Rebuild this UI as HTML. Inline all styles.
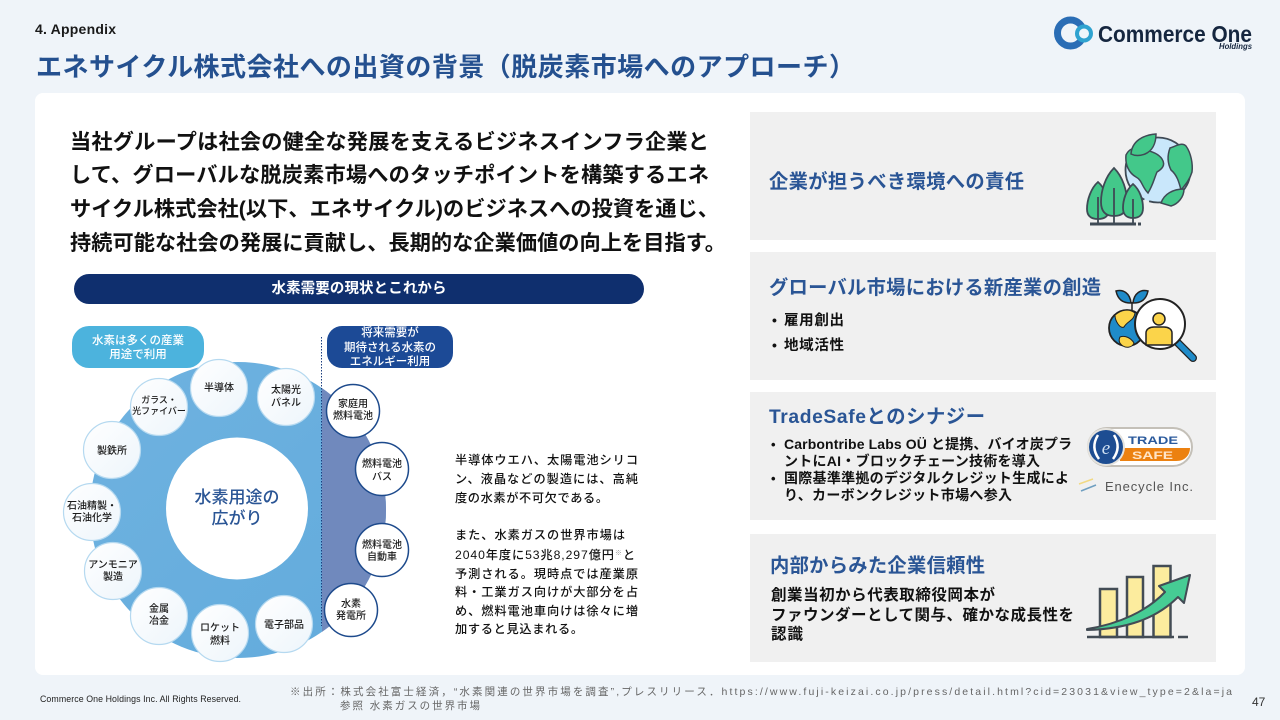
<!DOCTYPE html>
<html lang="ja"><head><meta charset="utf-8"><title>エネサイクル株式会社への出資の背景</title>
<style>
html,body{margin:0;padding:0;width:1280px;height:720px;overflow:hidden;background:#eff4f9}
svg{display:block}
text{font-family:"Liberation Sans","Noto Sans CJK JP",sans-serif}
.b{font-weight:700}
.m{font-weight:500}
.t{fill:#2a5595;font-weight:700;font-size:19.3px}
.k{fill:#111;font-weight:700}
.c{font-size:10px;fill:#1a1a1a;font-weight:500;text-anchor:middle}
.p{font-size:11.5px;fill:#fff;font-weight:500;text-anchor:middle}
.s{font-size:12.2px;fill:#111;font-weight:500}
</style></head><body>
<svg width="1280" height="720" viewBox="0 0 1280 720" xmlns="http://www.w3.org/2000/svg">
<defs>
<clipPath id="rc"><rect x="322" y="300" width="100" height="400"/></clipPath>
<linearGradient id="bg1" x1="0" y1="0" x2="1" y2="1"><stop offset="0" stop-color="#6fb2e0"/><stop offset="1" stop-color="#62abdc"/></linearGradient>
<linearGradient id="sm" x1="0" y1="0" x2="1" y2="1"><stop offset="0" stop-color="#fff"/><stop offset="1" stop-color="#edf5fb"/></linearGradient>
</defs>
<rect width="1280" height="720" fill="#eff4f9"/>
<text x="35" y="34" class="b" font-size="14" fill="#1a1a1a" textLength="81" lengthAdjust="spacing">4. Appendix</text>
<text x="36" y="76" class="b" font-size="26" fill="#24508f" textLength="819" lengthAdjust="spacing">エネサイクル株式会社への出資の背景（脱炭素市場へのアプローチ）</text>

<!-- logo -->
<circle cx="1070.5" cy="33" r="13" fill="none" stroke="#2a6db5" stroke-width="7"/>
<circle cx="1084" cy="33.500" r="7" fill="#eef6fb" stroke="#2fa3d0" stroke-width="4"/>
<text x="1098" y="42" class="b" font-size="23" fill="#15263f" textLength="154" lengthAdjust="spacingAndGlyphs">Commerce One</text>
<text x="1219" y="49" class="b" font-size="8" font-style="italic" fill="#15263f" textLength="33" lengthAdjust="spacingAndGlyphs">Holdings</text>

<!-- card -->
<rect x="35" y="93" width="1210" height="582" rx="8" fill="#fff"/>

<!-- main text -->
<g font-size="21.2">
<text x="70" y="149" class="k" textLength="639" lengthAdjust="spacing">当社グループは社会の健全な発展を支えるビジネスインフラ企業と</text>
<text x="70" y="182" class="k" textLength="639" lengthAdjust="spacing">して、グローバルな脱炭素市場へのタッチポイントを構築するエネ</text>
<text x="70" y="216" class="k" textLength="649" lengthAdjust="spacing">サイクル株式会社(以下、エネサイクル)のビジネスへの投資を通じ、</text>
<text x="70" y="250" class="k" textLength="656" lengthAdjust="spacing">持続可能な社会の発展に貢献し、長期的な企業価値の向上を目指す。</text>
</g>

<!-- banner -->
<rect x="74" y="274" width="570" height="30" rx="15" fill="#0f2f6e"/>
<text x="359" y="293" class="b" font-size="14.500" fill="#fff" text-anchor="middle" textLength="175" lengthAdjust="spacing">水素需要の現状とこれから</text>

<!-- pills -->
<rect x="72" y="326" width="132" height="42" rx="17" fill="#4cb3dd"/>
<text x="138" y="344" class="p">水素は多くの産業</text>
<text x="138" y="358" class="p">用途で利用</text>
<rect x="327" y="326" width="126" height="42" rx="15" fill="#1c4a96"/>
<text x="390" y="336" class="p">将来需要が</text>
<text x="390" y="351" class="p">期待される水素の</text>
<text x="390" y="365" class="p">エネルギー利用</text>

<!-- ring -->
<circle cx="238" cy="510" r="148" fill="url(#bg1)"/>
<circle cx="238" cy="510" r="148" fill="#7089bd" clip-path="url(#rc)"/>
<line x1="321.5" y1="337" x2="321.5" y2="626" stroke="#1c3f80" stroke-width="1" stroke-dasharray="1.5 1.5"/>
<circle cx="237" cy="508.500" r="71" fill="#fff"/>
<text x="237" y="503" class="m" font-size="17" fill="#2a5595" text-anchor="middle">水素用途の</text>
<text x="237" y="524" class="m" font-size="17" fill="#2a5595" text-anchor="middle">広がり</text>

<g fill="url(#sm)" stroke="#b5d9f0" stroke-width="1.200">
<circle cx="219" cy="388" r="28.500"/>
<circle cx="286" cy="397" r="28.500"/>
<circle cx="159" cy="407" r="28.500"/>
<circle cx="112" cy="450" r="28.500"/>
<circle cx="92" cy="512" r="28.500"/>
<circle cx="113" cy="571" r="28.500"/>
<circle cx="159" cy="616" r="28.500"/>
<circle cx="220" cy="633" r="28.500"/>
<circle cx="284" cy="624" r="28.500"/>
</g>
<text x="219" y="391" class="c">半導体</text>
<text x="286" y="393" class="c">太陽光</text><text x="286" y="406" class="c">パネル</text>
<text x="159" y="403" class="c" style="font-size:9px">ガラス・</text><text x="159" y="414" class="c" style="font-size:9px">光ファイバー</text>
<text x="112" y="454" class="c">製鉄所</text>
<text x="92" y="509" class="c">石油精製・</text><text x="92" y="521" class="c">石油化学</text>
<text x="113" y="568" class="c">アンモニア</text><text x="113" y="580" class="c">製造</text>
<text x="159" y="612" class="c">金属</text><text x="159" y="624" class="c">冶金</text>
<text x="220" y="631" class="c">ロケット</text><text x="220" y="644" class="c">燃料</text>
<text x="284" y="628" class="c">電子部品</text>

<g fill="#fff" stroke="#1d4a8c" stroke-width="1.500">
<circle cx="353" cy="411" r="26.500"/>
<circle cx="382" cy="469" r="26.500"/>
<circle cx="382" cy="550" r="26.500"/>
<circle cx="351" cy="610" r="26.500"/>
</g>
<text x="353" y="407" class="c">家庭用</text><text x="353" y="419" class="c">燃料電池</text>
<text x="382" y="467" class="c">燃料電池</text><text x="382" y="480" class="c">バス</text>
<text x="382" y="548" class="c">燃料電池</text><text x="382" y="560" class="c">自動車</text>
<text x="351" y="607" class="c">水素</text><text x="351" y="619" class="c">発電所</text>

<!-- side text -->
<text x="455" y="464" class="s" textLength="183" lengthAdjust="spacing">半導体ウエハ、太陽電池シリコ</text>
<text x="455" y="483" class="s" textLength="183" lengthAdjust="spacing">ン、液晶などの製造には、高純</text>
<text x="455" y="502" class="s" textLength="153" lengthAdjust="spacing">度の水素が不可欠である。</text>
<text x="455" y="539" class="s" textLength="170" lengthAdjust="spacing">また、水素ガスの世界市場は</text>
<text x="455" y="559" class="s" textLength="180" lengthAdjust="spacing">2040年度に53兆8,297億円<tspan font-size="7" dy="-4" fill="#999">※</tspan><tspan dy="4">と</tspan></text>
<text x="455" y="578" class="s" textLength="183" lengthAdjust="spacing">予測される。現時点では産業原</text>
<text x="455" y="596" class="s" textLength="183" lengthAdjust="spacing">料・工業ガス向けが大部分を占</text>
<text x="455" y="615" class="s" textLength="183" lengthAdjust="spacing">め、燃料電池車向けは徐々に増</text>
<text x="455" y="633" class="s" textLength="128" lengthAdjust="spacing">加すると見込まれる。</text>

<!-- right panels -->
<g fill="#f0f0f0">
<rect x="750" y="112" width="466" height="128"/>
<rect x="750" y="252" width="466" height="128"/>
<rect x="750" y="392" width="466" height="128"/>
<rect x="750" y="534" width="466" height="128"/>
</g>
<text x="769" y="188" class="t" textLength="255" lengthAdjust="spacing">企業が担うべき環境への責任</text>
<text x="769" y="294" class="t" textLength="332" lengthAdjust="spacing">グローバル市場における新産業の創造</text>
<text x="772" y="325" class="k" font-size="14">•</text>
<text x="784" y="325" class="k" font-size="14.500" textLength="60" lengthAdjust="spacing">雇用創出</text>
<text x="772" y="350" class="k" font-size="14">•</text>
<text x="784" y="350" class="k" font-size="14.500" textLength="60" lengthAdjust="spacing">地域活性</text>
<text x="769" y="423" class="t" textLength="216" lengthAdjust="spacing">TradeSafeとのシナジー</text>
<text x="771" y="449" class="k" font-size="13">•</text>
<text x="784" y="449" class="k" font-size="14" textLength="288" lengthAdjust="spacing">Carbontribe Labs OÜ と提携、バイオ炭プラ</text>
<text x="784" y="466" class="k" font-size="14" textLength="256" lengthAdjust="spacing">ントにAI・ブロックチェーン技術を導入</text>
<text x="771" y="483" class="k" font-size="13">•</text>
<text x="784" y="483" class="k" font-size="14" textLength="285" lengthAdjust="spacing">国際基準準拠のデジタルクレジット生成によ</text>
<text x="784" y="500" class="k" font-size="14" textLength="228" lengthAdjust="spacing">り、カーボンクレジット市場へ参入</text>
<text x="770" y="572" class="t" textLength="215" lengthAdjust="spacing">内部からみた企業信頼性</text>
<text x="771" y="600" class="k" font-size="15.500" textLength="224" lengthAdjust="spacing">創業当初から代表取締役岡本が</text>
<text x="771" y="620" class="k" font-size="15.500" textLength="303" lengthAdjust="spacing">ファウンダーとして関与、確かな成長性を</text>
<text x="771" y="639" class="k" font-size="15.500" textLength="32" lengthAdjust="spacing">認識</text>

<!-- earth icon -->
<circle cx="1158" cy="170" r="32.500" fill="#c9e7fb" stroke="#3f4a55" stroke-width="1.800" stroke-dasharray="60 5"/>
<path d="M1126 155c3-6 8-8 12-6 10 1 20 4 24 10 4 6 0 10-5 13-3 7-4 13-9 21-6-6-6-13-12-16-7-4-11-12-10-22z" fill="#43c88a" stroke="#3f4a55" stroke-width="1.500"/>
<path d="M1170 148c6-2 12-6 16-2 5 7 7 18 6 26-2 7-6 12-11 18-2-8-4-15-10-20-3-6-4-14-1-22z" fill="#43c88a" stroke="#3f4a55" stroke-width="1.500"/>
<path d="M1131 154c1-13 12-19 25-20 0 10-4 17-11 20-5 2-10 2-14 0z" fill="#43c88a" stroke="#3f4a55" stroke-width="1.500"/>
<path d="M1161 203c3-9 12-14 23-14 0 8-6 15-13 17z" fill="#43c88a" stroke="#3f4a55" stroke-width="1.500"/>
<g fill="#43c88a" stroke="#3f4a55" stroke-width="1.800">
<path d="M1098 182c-7 6-11 18-11 27 0 7 4 10 11 10s11-3 11-10c0-9-4-21-11-27z"/>
<path d="M1114 168c-9 9-13 23-13 34 0 10 5 14 13 14s13-4 13-14c0-11-4-25-13-34z"/>
<path d="M1133 184c-7 6-10 16-10 24 0 7 4 10 10 10s10-3 10-10c0-8-3-18-10-24z"/>
</g>
<path d="M1098 197v27M1114 188v36M1133 199v25" stroke="#3f4a55" stroke-width="1.800"/>
<path d="M1090 224h46" stroke="#3f4a55" stroke-width="3"/>
<rect x="1138" y="222.500" width="3" height="3" fill="#3f4a55"/>

<!-- magnifier icon -->
<path d="M1132 310v-8" stroke="#222" stroke-width="1.500"/>
<path d="M1131 303c-8 0-13-3-15-12 7-2 14 2 15 12zM1133 303c8 0 13-3 15-12-7-2-14 2-15 12z" fill="#1f8bc9" stroke="#222" stroke-width="1.500"/>
<circle cx="1127" cy="328" r="18" fill="#1f8bc9" stroke="#222" stroke-width="1.800"/>
<path d="M1115 315c6-5 14-7 20-2-1 8-8 8-11 14-4 2-9-6-9-12zM1120 337c5-2 11 1 14 6-2 5-8 5-11 3-3-2-5-5-3-9z" fill="#fbd44a" stroke="#222" stroke-width="1"/>
<path d="M1178 343l15 15" stroke="#222" stroke-width="8" stroke-linecap="round"/>
<path d="M1178 343l15 15" stroke="#1f8bc9" stroke-width="5.500" stroke-linecap="round"/>
<circle cx="1160" cy="324" r="25" fill="#fff" stroke="#222" stroke-width="2"/>
<circle cx="1159" cy="319" r="6" fill="#fbd44a" stroke="#222" stroke-width="1.500"/>
<path d="M1146 345v-12c0-4 4-6 8-6h10c4 0 8 2 8 6v12z" fill="#fbd44a" stroke="#222" stroke-width="1.500"/>

<!-- tradesafe logo -->
<rect x="1088" y="428" width="104" height="38" rx="19" fill="#fff" stroke="#c4c0b8" stroke-width="2"/>
<path d="M1120 448h70c0 6-4 13-14 13h-56z" fill="#ec8110"/>
<circle cx="1106" cy="447" r="19" fill="#e5e3de"/>
<circle cx="1106" cy="447" r="17" fill="#1d4d92"/>
<path d="M1098 435c-5 8-5 16 1 24M1114 435c5 8 5 16-1 24" fill="none" stroke="#fff" stroke-width="2.500"/>
<text x="1106" y="454" font-size="19" font-style="italic" fill="#cfe0f2" text-anchor="middle" style="font-family:'Liberation Serif',serif">e</text>
<text x="1128" y="444" class="b" font-size="11" fill="#2b5a9c" textLength="50" lengthAdjust="spacingAndGlyphs">TRADE</text>
<text x="1132" y="459" class="b" font-size="11" fill="#ffe5c8" textLength="41" lengthAdjust="spacingAndGlyphs">SAFE</text>
<path d="M1079 484l14-5" stroke="#f1d984" stroke-width="1.500"/>
<path d="M1081 491l15-6" stroke="#6f9fc0" stroke-width="1.500"/>
<text x="1105" y="491" font-size="13" fill="#555" textLength="88" lengthAdjust="spacing">Enecycle Inc.</text>

<!-- chart icon -->
<g fill="#fcec9e" stroke="#434c55" stroke-width="2.500">
<rect x="1100" y="589" width="17" height="48"/>
<rect x="1127" y="577" width="16" height="60"/>
<rect x="1153.500" y="566" width="17" height="71"/>
</g>
<path d="M1087 637h87" stroke="#434c55" stroke-width="2.500"/>
<path d="M1178 637h10" stroke="#434c55" stroke-width="2.500"/>
<path d="M1087 629c32-5 60-18 78-37l-6-6 31-11-6 28-6-6c-22 22-52 32-91 33z" fill="#46cc94" stroke="#434c55" stroke-width="2" stroke-linejoin="round"/>

<!-- footer -->
<text x="40" y="702" font-size="8.800" fill="#222" textLength="201" lengthAdjust="spacing">Commerce One Holdings Inc. All Rights Reserved.</text>
<text x="290" y="695" font-size="10.500" fill="#666" textLength="942" lengthAdjust="spacing">※出所：株式会社富士経済，“水素関連の世界市場を調査”,プレスリリース．https://www.fuji-keizai.co.jp/press/detail.html?cid=23031&amp;view_type=2&amp;la=ja</text>
<text x="340" y="709" font-size="10.500" fill="#666" textLength="140" lengthAdjust="spacing">参照 水素ガスの世界市場</text>
<text x="1252" y="706" font-size="12" fill="#333">47</text>
</svg>
</body></html>
